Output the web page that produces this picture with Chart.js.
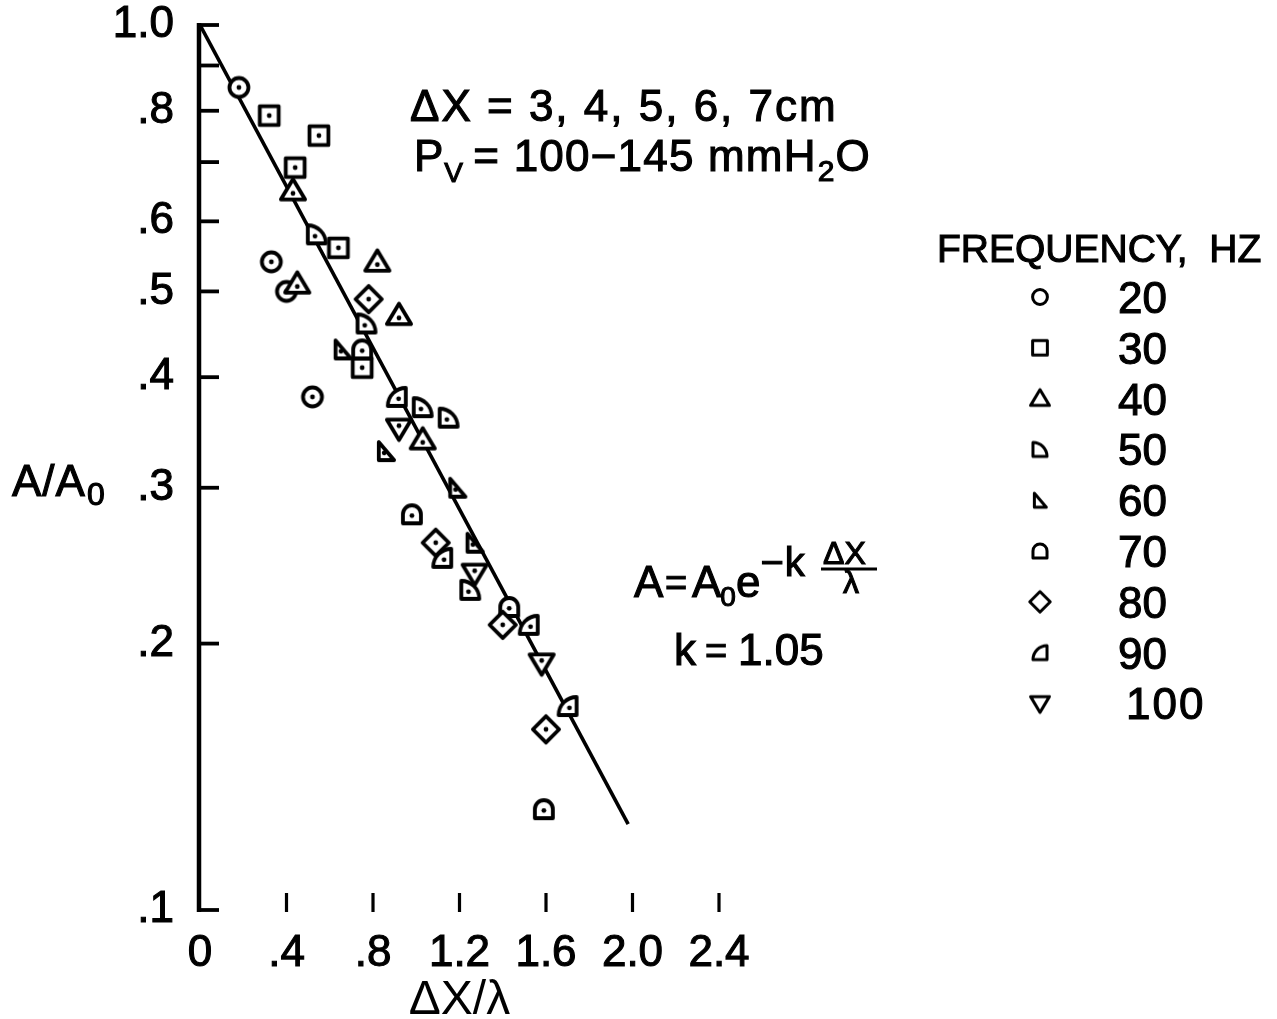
<!DOCTYPE html>
<html>
<head>
<meta charset="utf-8">
<script src="https://cdn.jsdelivr.net/npm/chart.js@4"></script>
<style>
  html, body { margin: 0; padding: 0; background: #fff; }
  #wrap { width: 1277px; height: 1019px; }
</style>
</head>
<body>
<div id="wrap"><canvas id="c" width="1277" height="1019"></canvas></div>
<script>
// Attenuation of wave amplitude vs. distance in wavelengths, by driving frequency
const freqLabels = ['20', '30', '40', '50', '60', '70', '80', '90', '100'];
const markerKinds = ['circle', 'square', 'triUp', 'quarterBL', 'rightTri', 'arch', 'diamond', 'quarterBR', 'triDown'];

const f20x  = [0.18, 0.33, 0.40, 0.52];
const f20y  = [0.85, 0.54, 0.50, 0.38];
const f30x  = [0.32, 0.44, 0.55, 0.64, 0.75];
const f30y  = [0.79, 0.69, 0.75, 0.56, 0.41];
const f40x  = [0.43, 0.45, 0.82, 0.92, 1.03];
const f40y  = [0.65, 0.51, 0.54, 0.47, 0.34];
const f50x  = [0.54, 0.77, 1.03, 1.15, 1.25];
const f50y  = [0.58, 0.46, 0.37, 0.36, 0.23];
const f60x  = [0.66, 0.86, 1.19, 1.27];
const f60y  = [0.43, 0.33, 0.30, 0.26];
const f70x  = [0.75, 0.98, 1.43, 1.59];
const f70y  = [0.43, 0.28, 0.22, 0.13];
const f80x  = [0.78, 1.09, 1.40, 1.60];
const f80y  = [0.49, 0.26, 0.21, 0.16];
const f90x  = [0.91, 1.12, 1.52, 1.70];
const f90y  = [0.38, 0.25, 0.21, 0.17];
const f100x = [0.92, 1.27, 1.58];
const f100y = [0.35, 0.24, 0.19];

const seriesX = [f20x, f30x, f40x, f50x, f60x, f70x, f80x, f90x, f100x];
const seriesY = [f20y, f30y, f40y, f50y, f60y, f70y, f80y, f90y, f100y];

// Fitted curve A = A0 exp(-k dX/lambda), k = 1.05
const kFit = 1.05;
const fitX = [0, 1.98];

const xTickValues = [0, 0.4, 0.8, 1.2, 1.6, 2.0, 2.4];
const xTickLabels = ['0', '.4', '.8', '1.2', '1.6', '2.0', '2.4'];
const yTickValues = [1.0, 0.9, 0.8, 0.7, 0.6, 0.5, 0.4, 0.3, 0.2, 0.1];
const yTickLabels = ['1.0', '', '.8', '', '.6', '.5', '.4', '.3', '.2', '.1'];

const FONT = '"Liberation Sans", Arial, sans-serif';

function shapePath(ctx, kind, a) {
  ctx.beginPath();
  switch (kind) {
    case 'circle':
      ctx.arc(0, 0, a, 0, 2 * Math.PI); break;
    case 'square':
      ctx.rect(-a * 0.9, -a * 0.9, 1.8 * a, 1.8 * a); break;
    case 'triUp':
      ctx.moveTo(0, -a * 1.05); ctx.lineTo(a * 1.1, a * 0.8); ctx.lineTo(-a * 1.1, a * 0.8); ctx.closePath(); break;
    case 'quarterBL':
      ctx.moveTo(-a, a); ctx.lineTo(-a, -a); ctx.arc(-a, a, 2 * a, -Math.PI / 2, 0); ctx.closePath(); break;
    case 'rightTri':
      ctx.moveTo(-a * 0.8, -a); ctx.lineTo(-a * 0.8, a); ctx.lineTo(a * 0.9, a); ctx.closePath(); break;
    case 'arch':
      ctx.moveTo(-a, a); ctx.lineTo(-a, 0); ctx.arc(0, 0, a, Math.PI, 2 * Math.PI); ctx.lineTo(a, a); ctx.closePath(); break;
    case 'diamond':
      ctx.moveTo(0, -a * 1.25); ctx.lineTo(a * 1.25, 0); ctx.lineTo(0, a * 1.25); ctx.lineTo(-a * 1.25, 0); ctx.closePath(); break;
    case 'quarterBR':
      ctx.moveTo(a, a); ctx.lineTo(a, -a); ctx.arc(a, a, 2 * a, -Math.PI / 2, -Math.PI, true); ctx.closePath(); break;
    case 'triDown':
      ctx.moveTo(0, a * 1.05); ctx.lineTo(a * 1.1, -a * 0.8); ctx.lineTo(-a * 1.1, -a * 0.8); ctx.closePath(); break;
  }
}

function makeMarker(kind, a, lw, withDot) {
  const size = 48;
  const cv = document.createElement('canvas');
  cv.width = size; cv.height = size;
  const ctx = cv.getContext('2d');
  ctx.translate(size / 2, size / 2);
  ctx.lineJoin = 'round';
  shapePath(ctx, kind, a);
  ctx.fillStyle = '#fff';
  ctx.fill();
  ctx.lineWidth = lw;
  ctx.strokeStyle = '#000';
  ctx.stroke();
  if (withDot) {
    let dx = 0, dy = 0;
    if (kind === 'triUp') dy = a * 0.25;
    if (kind === 'triDown') dy = -a * 0.25;
    if (kind === 'quarterBL' || kind === 'rightTri') { dx = -a * 0.2; dy = a * 0.2; }
    if (kind === 'quarterBR') { dx = a * 0.2; dy = a * 0.2; }
    if (kind === 'arch') dy = a * 0.15;
    ctx.beginPath();
    ctx.arc(dx, dy, 2.4, 0, 2 * Math.PI);
    ctx.fillStyle = '#000';
    ctx.fill();
  }
  return cv;
}

const markerSize = { circle: 9.5, square: 10.5, triUp: 11, quarterBL: 9, rightTri: 9, arch: 9, diamond: 10.5, quarterBR: 9, triDown: 11 };
const plotMarkers = markerKinds.map(k => makeMarker(k, markerSize[k], 3.8, true));
const legendMarkers = markerKinds.map(k => makeMarker(k, markerSize[k] * 0.78, 3, false));

const datasets = freqLabels.map((f, i) => ({
  label: f + ' Hz',
  type: 'scatter',
  data: seriesX[i].map((x, j) => ({ x: x, y: seriesY[i][j] })),
  pointStyle: plotMarkers[i],
  order: 10 - i
}));
datasets.push({
  label: 'fit',
  type: 'line',
  data: fitX.map(x => ({ x: x, y: Math.exp(-kFit * x) })),
  borderColor: '#000',
  borderWidth: 3.6,
  pointRadius: 0,
  fill: false,
  order: 20
});

// Draw a text run with a light outline so the strokes read heavier
function put(ctx, text, size, x, y, spacing) {
  ctx.font = size + 'px ' + FONT;
  ctx.letterSpacing = (spacing || 0) + 'px';
  ctx.fillText(text, x, y);
  ctx.lineWidth = 1.1;
  ctx.strokeText(text, x, y);
  const w = ctx.measureText(text).width;
  ctx.letterSpacing = '0px';
  return x + w;
}

const decor = {
  id: 'decor',
  beforeDatasetsDraw(chart) {
    const ctx = chart.ctx;
    const xs = chart.scales.x, ys = chart.scales.y;
    const left = chart.chartArea.left, bottom = chart.chartArea.bottom, top = chart.chartArea.top;
    ctx.save();
    ctx.strokeStyle = '#000';
    ctx.lineCap = 'butt';
    // vertical axis
    ctx.lineWidth = 4.5;
    ctx.beginPath();
    ctx.moveTo(left - 1, top - 2);
    ctx.lineTo(left - 1, bottom + 2);
    ctx.stroke();
    // y tick marks, pointing inward
    ctx.lineWidth = 3.8;
    yTickValues.forEach(v => {
      const py = ys.getPixelForValue(v);
      ctx.beginPath();
      ctx.moveTo(left - 2, py);
      ctx.lineTo(left + 19, py);
      ctx.stroke();
    });
    // x tick marks, detached from the axis
    ctx.lineWidth = 3.2;
    xTickValues.forEach(v => {
      if (v === 0) return;
      const px = xs.getPixelForValue(v);
      ctx.beginPath();
      ctx.moveTo(px, bottom - 17);
      ctx.lineTo(px, bottom + 2);
      ctx.stroke();
    });
    ctx.restore();
  },
  afterDraw(chart) {
    const ctx = chart.ctx;
    ctx.save();
    ctx.fillStyle = '#000';
    ctx.strokeStyle = '#000';
    ctx.textBaseline = 'alphabetic';
    ctx.textAlign = 'left';
    // y axis title
    let x = put(ctx, 'A/A', 44, 12, 496, 1);
    put(ctx, '0', 32, x + 1, 505);
    // test conditions
    put(ctx, '\u0394X = 3, 4, 5, 6, 7cm', 44, 410, 121, 2);
    x = put(ctx, 'P', 44, 414, 171);
    put(ctx, 'V', 28, x + 1, 182);
    x = put(ctx, '= 100\u2212145 mmH', 44, x + 30, 171, 1.2);
    x = put(ctx, '2', 30, x + 1, 181);
    put(ctx, 'O', 44, x + 1, 171);
    // fitted law
    put(ctx, 'A', 44, 634, 597);
    put(ctx, '=', 38, 665, 596);
    x = put(ctx, 'A', 44, 692, 597);
    x = put(ctx, '0', 28, x - 1, 606);
    x = put(ctx, 'e', 44, x, 597);
    x = put(ctx, '\u2212', 40, x, 576);
    put(ctx, 'k', 40, x + 1, 576);
    put(ctx, '\u0394X', 32, 823, 564);
    put(ctx, '\u03bb', 32, 843, 593);
    ctx.lineWidth = 3.2;
    ctx.beginPath();
    ctx.moveTo(821, 569); ctx.lineTo(877, 569);
    ctx.stroke();
    put(ctx, 'k', 44, 674, 665);
    put(ctx, '=', 38, 705, 664);
    put(ctx, '1.05', 44, 738, 665);
    // frequency key
    put(ctx, 'FREQUENCY,  HZ', 39, 937, 262);
    freqLabels.forEach((f, i) => {
      const cy = 297 + i * 50.8;
      const m = legendMarkers[i];
      ctx.drawImage(m, 1040 - m.width / 2, cy - m.height / 2);
      put(ctx, f, 44, f.length > 2 ? 1126 : 1118, cy + 16, f.length > 2 ? 2 : 0);
    });
    ctx.restore();
  }
};

new Chart(document.getElementById('c'), {
  type: 'scatter',
  data: { datasets: datasets },
  options: {
    responsive: false,
    devicePixelRatio: 1,
    animation: false,
    layout: { padding: { left: 0, top: 25, right: 558, bottom: 0 } },
    plugins: { legend: { display: false }, tooltip: { enabled: false } },
    scales: {
      x: {
        type: 'linear',
        min: 0, max: 2.4,
        grid: { display: false, drawTicks: false },
        border: { display: false },
        afterBuildTicks: s => { s.ticks = xTickValues.map(v => ({ value: v })); },
        afterFit: s => { s.height = 109; s.paddingLeft = 0; s.paddingRight = 0; },
        ticks: {
          autoSkip: false,
          maxRotation: 0,
          padding: 17,
          color: '#000',
          textStrokeColor: '#000',
          textStrokeWidth: 1.1,
          font: { family: FONT, size: 44 },
          callback: v => { const i = xTickValues.findIndex(t => Math.abs(t - v) < 1e-9); return i >= 0 ? xTickLabels[i] : ''; }
        },
        title: { display: true, text: '\u0394X/\u03bb', color: '#000', font: { family: FONT, size: 48, lineHeight: 1 }, padding: { top: 0, bottom: -6 } }
      },
      y: {
        type: 'logarithmic',
        min: 0.1, max: 1.0,
        grid: { display: false, drawTicks: false },
        border: { display: false },
        afterBuildTicks: s => { s.ticks = yTickValues.map(v => ({ value: v })); },
        afterFit: s => { s.width = 200; s.paddingTop = 0; s.paddingBottom = 0; },
        ticks: {
          autoSkip: false,
          padding: 26,
          color: '#000',
          textStrokeColor: '#000',
          textStrokeWidth: 1.1,
          font: { family: FONT, size: 44, lineHeight: 1 },
          callback: v => { const i = yTickValues.findIndex(t => Math.abs(t - v) < 1e-9); return i >= 0 ? yTickLabels[i] : ''; }
        }
      }
    }
  },
  plugins: [decor]
});
</script>
</body>
</html>
